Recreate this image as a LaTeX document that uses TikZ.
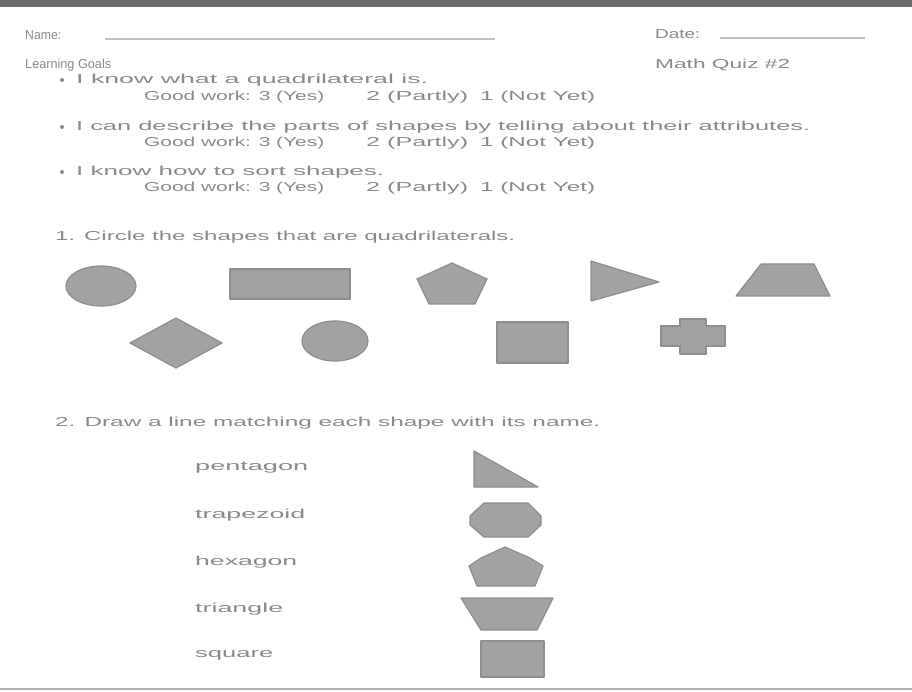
\documentclass[tikz,border=0pt]{standalone}
\usepackage{fontspec}
\usepackage{graphicx}
\setmainfont{Liberation Sans}
\definecolor{txt}{HTML}{8A8A8A}
\definecolor{shp}{HTML}{A2A2A2}
\definecolor{shpedge}{HTML}{8E8E8E}
\newcommand{\fw}[2]{\resizebox{#1pt}{\height}{#2}}
\tikzset{
  lbl/.style={anchor=west, inner sep=0pt, text=txt, font=\fontsize{13}{14}\selectfont},
  fig/.style={fill=shp, draw=shpedge, line width=1.2pt, line join=round},
  rulel/.style={draw=black!25, line width=1.2pt},
  dot/.style={circle, fill=txt, inner sep=0pt, minimum size=4pt}
}
\begin{document}
\begin{tikzpicture}[x=1pt,y=-1pt]
\useasboundingbox (0,0) rectangle (912,692);
\fill[white] (0,0) rectangle (912,692);
\fill[black!58] (0,0) rectangle (912,7);
\draw[black!30, line width=2pt] (0,689) -- (912,689);
% header
\node[lbl] (name) at (25,35) {\fw{36}{Name:}};
\coordinate (nameA) at (105,39); \coordinate (nameB) at (495,39);
\draw[rulel] (nameA) -- (nameB);
\node[lbl] (date) at (655,34) {\fw{45}{Date:}};
\coordinate (dateA) at (720,38); \coordinate (dateB) at (865,38);
\draw[rulel] (dateA) -- (dateB);
\node[lbl] (goals) at (25,65) {\fw{86}{Learning Goals}};
\node[lbl] (quiz) at (655,65) {\fw{135}{Math Quiz \#2}};
% goals
\node[dot] (b1) at (62,80) {};
\node[lbl] (g1) at (76,80) {\fw{352}{I know what a quadrilateral is.}};
\node[lbl] (s1a) at (144,97) {\fw{180}{Good work: 3 (Yes)}};
\node[lbl] (s1b) at (366,97) {\fw{102}{2 (Partly)}};
\node[lbl] (s1c) at (480,97) {\fw{115}{1 (Not Yet)}};
\node[dot] (b2) at (62,127) {};
\node[lbl] (g2) at (76,127) {\fw{734}{I can describe the parts of shapes by telling about their attributes.}};
\node[lbl] (s2a) at (144,143) {\fw{180}{Good work: 3 (Yes)}};
\node[lbl] (s2b) at (366,143) {\fw{102}{2 (Partly)}};
\node[lbl] (s2c) at (480,143) {\fw{115}{1 (Not Yet)}};
\node[dot] (b3) at (62,172) {};
\node[lbl] (g3) at (76,172) {\fw{308}{I know how to sort shapes.}};
\node[lbl] (s3a) at (144,188) {\fw{180}{Good work: 3 (Yes)}};
\node[lbl] (s3b) at (366,188) {\fw{102}{2 (Partly)}};
\node[lbl] (s3c) at (480,188) {\fw{115}{1 (Not Yet)}};
% question 1
\node[lbl] (q1) at (55,237) {\fw{460}{1. Circle the shapes that are quadrilaterals.}};
\draw[fig] (101,286) ellipse [x radius=35, y radius=20];
\draw[fig] (230,269) rectangle (350,299);
\draw[fig] (452,263) -- (487,279) -- (475,304) -- (429,304) -- (417,279) -- cycle;
\draw[fig] (591,261) -- (659,282) -- (591,301) -- cycle;
\draw[fig] (761,264) -- (814,264) -- (830,296) -- (736,296) -- cycle;
\draw[fig] (176,318) -- (222,343) -- (176,368) -- (130,343) -- cycle;
\draw[fig] (335,341) ellipse [x radius=33, y radius=20];
\draw[fig] (497,322) rectangle (568,363);
\draw[fig] (680,319) -- (706,319) -- (706,326) -- (725,326) -- (725,346) -- (706,346) -- (706,354) -- (680,354) -- (680,346) -- (661,346) -- (661,326) -- (680,326) -- cycle;
% question 2
\node[lbl] (q2) at (55,423) {\fw{545}{2. Draw a line matching each shape with its name.}};
\node[lbl] (w1) at (195,468) {\fw{113}{pentagon}};
\node[lbl] (w2) at (195,515) {\fw{110}{trapezoid}};
\node[lbl] (w3) at (195,562) {\fw{102}{hexagon}};
\node[lbl] (w4) at (195,609) {\fw{88}{triangle}};
\node[lbl] (w5) at (195,655) {\fw{78}{square}};
\draw[fig] (474,451) -- (538,487) -- (474,487) -- cycle;
\draw[fig] (484,503) -- (528,503) -- (541,516) -- (541,525) -- (528,537) -- (484,537) -- (470,525) -- (470,516) -- cycle;
\draw[fig] (505,547) -- (530,558) -- (543,566) -- (535,586) -- (477,586) -- (469,566) -- (481,558) -- cycle;
\draw[fig] (461,598) -- (553,598) -- (537,630) -- (481,630) -- cycle;
\draw[fig] (481,641) rectangle (544,677);
\end{tikzpicture}
\end{document}
